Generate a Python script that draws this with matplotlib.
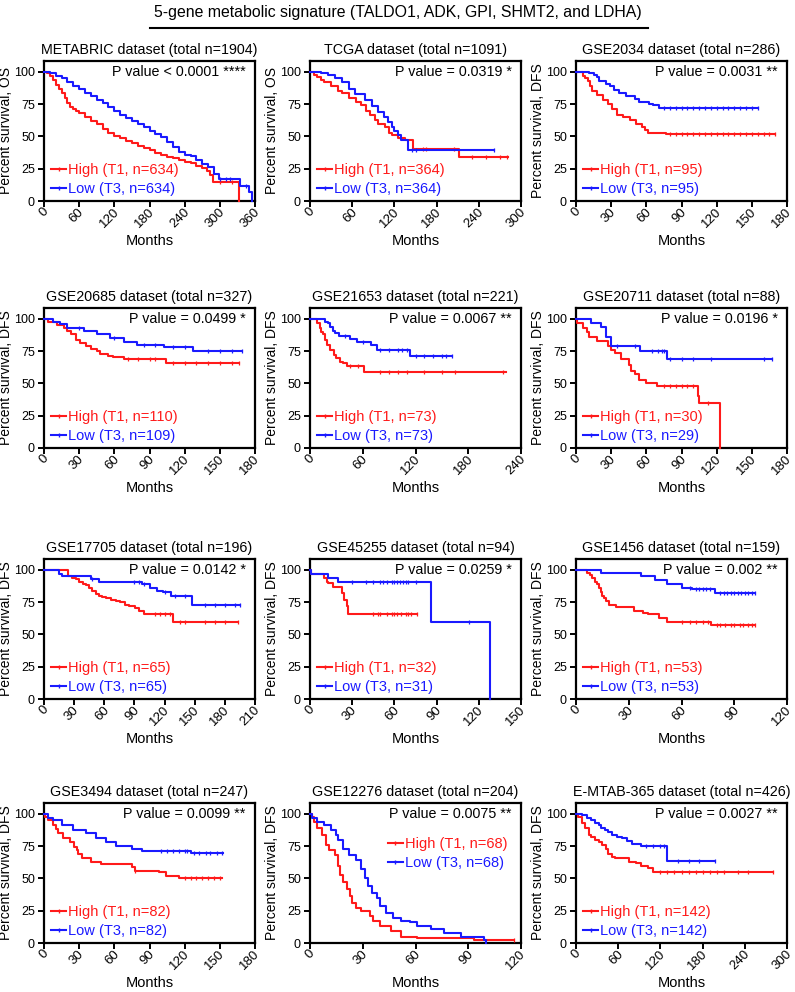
import numpy as np
import matplotlib
matplotlib.use("Agg")
import matplotlib.pyplot as plt
from matplotlib.lines import Line2D
from matplotlib.transforms import ScaledTranslation

plt.rcParams['font.family'] = ['Liberation Sans', 'DejaVu Sans']

# Значения (месяцы, % выживаемости)
titles = ['METABRIC dataset (total n=1904)', 'TCGA dataset (total n=1091)',
          'GSE2034 dataset (total n=286)', 'GSE20685 dataset (total n=327)',
          'GSE21653 dataset (total n=221)', 'GSE20711 dataset (total n=88)',
          'GSE17705 dataset (total n=196)', 'GSE45255 dataset (total n=94)',
          'GSE1456 dataset (total n=159)', 'GSE3494 dataset (total n=247)',
          'GSE12276 dataset (total n=204)', 'E-MTAB-365 dataset (total n=426)']
pvals = ['P value < 0.0001 ****', 'P value = 0.0319 *', 'P value = 0.0031 **',
         'P value = 0.0499 *', 'P value = 0.0067 **', 'P value = 0.0196 *',
         'P value = 0.0142 *', 'P value = 0.0259 *', 'P value = 0.002 **',
         'P value = 0.0099 **', 'P value = 0.0075 **', 'P value = 0.0027 **']
endpoints = ['OS', 'OS'] + ['DFS'] * 10
x_max = [360, 300, 180, 180, 240, 180, 210, 150, 120, 180, 120, 300]
x_step = [60, 60, 30, 30, 60, 30, 30, 30, 30, 30, 30, 60]
n_high = [634, 364, 95, 110, 73, 30, 65, 32, 53, 82, 68, 142]
n_low = [634, 364, 95, 109, 73, 29, 65, 31, 53, 82, 68, 142]

# METABRIC
metabric_high_t = [0, 5, 10, 15, 20, 25, 30, 35, 40, 45, 50, 55, 60, 70, 80, 90, 100, 110, 120, 130,
                   140, 150, 160, 170, 180, 190, 200, 210, 220, 230, 240, 250, 260, 270, 278, 284, 288, 333]
metabric_high_s = [100, 99, 97, 94, 90, 87, 84, 80, 76, 73, 71, 69.5, 68, 65, 62, 59.5, 56, 53, 50.5, 48.5,
                   46.5, 45, 43, 41, 39.5, 37, 35.5, 34, 33, 32, 30.5, 29.5, 27.5, 25.5, 23, 20, 15, 0]
metabric_high_end = 333
metabric_high_cens = [300, 320]
metabric_low_t = [0, 10, 20, 30, 40, 50, 60, 70, 80, 90, 100, 110, 120, 130, 140, 150, 160, 170, 180, 190,
                  200, 210, 220, 230, 240, 250, 260, 270, 280, 290, 298, 335, 350, 355]
metabric_low_s = [100, 99.5, 97, 95, 92, 89, 86.5, 84, 81.5, 78.5, 76, 73, 70, 66.5, 64, 62, 59.5, 57, 54.5, 52,
                  49.5, 46, 42, 38, 36, 34.5, 32, 29, 26, 21, 17, 12, 7, 0]
metabric_low_end = 355
metabric_low_cens = [300, 310, 318, 345]

# TCGA
tcga_high_t = [0, 5, 10, 15, 20, 30, 40, 45, 55, 65, 73, 80, 85, 92, 97, 106, 112, 116, 125, 135, 146, 212]
tcga_high_s = [100, 98, 96, 94, 92.5, 89, 85, 83.5, 80, 77, 74.5, 70, 66.8, 63, 60, 57, 53, 51, 49, 47, 40, 34]
tcga_high_end = 282
tcga_high_cens = [160, 165, 205, 230, 250, 270, 280]
tcga_low_t = [0, 15, 26, 35, 45, 55, 64, 78, 88, 97, 105, 111, 117, 120, 125, 130, 139]
tcga_low_s = [100, 99, 97.5, 95, 92.5, 87, 83, 78, 74, 69, 65, 61.5, 57, 54, 51, 47, 39.5]
tcga_low_end = 262
tcga_low_cens = [145, 150, 262]

# GSE2034
gse2034_high_t = [0, 6, 8, 10, 12, 14, 18, 23, 27, 31, 35, 40, 46, 51, 56, 59, 61, 77]
gse2034_high_s = [100, 97, 95, 93, 89, 85, 82, 78, 75, 71, 67, 65, 63, 60, 57, 55, 53, 52]
gse2034_high_end = 170
gse2034_high_cens = [80, 85, 90, 95, 100, 105, 110, 115, 120, 125, 130, 135, 140, 145, 150, 155, 160, 165, 170]
gse2034_low_t = [0, 11, 15, 18, 20, 26, 29, 32, 37, 43, 50, 54, 62, 66, 71]
gse2034_low_s = [100, 99, 98, 96, 93, 91, 89, 86, 84, 81, 79, 77, 75.5, 74.5, 72]
gse2034_low_end = 155
gse2034_low_cens = [75, 80, 85, 90, 95, 100, 105, 110, 115, 120, 125, 130, 135, 140, 145, 150, 155]

# GSE20685
gse20685_high_t = [0, 3, 11, 17, 20, 23, 27, 31, 36, 40, 45, 48, 55, 59, 68, 104]
gse20685_high_s = [100, 98, 95.5, 93, 91, 88, 84, 81, 79, 77, 75, 73, 71.5, 70.5, 69, 66]
gse20685_high_end = 166
gse20685_high_cens = [72, 80, 90, 95, 110, 120, 130, 140, 150, 160, 166]
gse20685_low_t = [0, 8, 14, 20, 34, 45, 56, 68, 79, 102, 127]
gse20685_low_s = [100, 98, 96, 93, 91, 88, 85, 82.5, 80, 78.5, 75]
gse20685_low_end = 169
gse20685_low_cens = [30, 60, 85, 95, 110, 120, 140, 150, 160, 169]

# GSE21653
gse21653_high_t = [0, 8, 11, 13, 15, 17, 19, 23, 27, 30, 34, 38, 42, 61]
gse21653_high_s = [100, 97, 93, 90, 88, 84, 80, 76, 72, 69.5, 67, 65.6, 63.5, 59]
gse21653_high_end = 223
gse21653_high_cens = [45, 55, 80, 90, 100, 110, 130, 150, 165, 220]
gse21653_low_t = [0, 17, 20, 23, 26, 29, 33, 36, 45, 53, 69, 76, 114]
gse21653_low_s = [100, 98, 97, 94, 91, 89, 87, 86.5, 84.5, 82.5, 80, 76, 71]
gse21653_low_end = 162
gse21653_low_cens = [40, 60, 80, 90, 100, 105, 110, 120, 130, 140, 150, 155, 162]

# GSE20711
gse20711_high_t = [0, 1, 6, 9, 11, 18, 27, 30, 33, 38, 45, 47, 50, 54, 60, 69, 104, 105, 123]
gse20711_high_s = [100, 97, 93, 90, 86, 83, 79, 76, 74, 69, 64, 60, 57, 53, 50.6, 48, 40, 35, 0]
gse20711_high_end = 123
gse20711_high_cens = [75, 80, 85, 90, 95, 100, 113]
gse20711_low_t = [0, 13, 21, 26, 30, 55, 78]
gse20711_low_s = [100, 97, 93.5, 86, 79, 75.5, 69]
gse20711_low_end = 167
gse20711_low_cens = [35, 50, 65, 70, 73, 75, 80, 90, 100, 115, 160, 167]

# GSE17705
gse17705_high_t = [0, 24, 28, 32, 35, 39, 42, 45, 48, 52, 55, 58, 62, 67, 72, 76, 81, 85, 91, 95, 100, 101, 128]
gse17705_high_s = [100, 95, 94, 93, 91, 89, 88, 86, 84, 81, 80, 79, 78.4, 77, 76, 75, 73, 72, 70.6, 68, 66, 65.5, 59.5]
gse17705_high_end = 193
gse17705_high_cens = [110, 115, 120, 125, 135, 140, 160, 170, 180, 193]
gse17705_low_t = [0, 15, 18, 47, 55, 98, 105, 112, 118, 126, 147]
gse17705_low_s = [100, 97, 95, 93, 91, 89, 86, 84, 83, 79.7, 73]
gse17705_low_end = 195
gse17705_low_cens = [48, 90, 95, 100, 120, 130, 140, 160, 170, 180, 190, 195]

# GSE45255
gse45255_high_t = [0, 1, 10, 12, 13, 16, 23, 24, 26, 27]
gse45255_high_s = [100, 96.6, 94, 91, 90, 87, 82, 77, 72, 65.5]
gse45255_high_end = 76
gse45255_high_cens = [45, 48, 50, 55, 58, 60, 62, 65, 68, 70, 72, 76]
gse45255_low_t = [0, 1, 13, 20, 86, 128]
gse45255_low_s = [100, 96.6, 94, 90.6, 60, 0]
gse45255_low_end = 128
gse45255_low_cens = [30, 40, 45, 50, 52, 55, 58, 60, 62, 64, 66, 68, 70, 75, 113]

# GSE1456
gse1456_high_t = [0, 6, 8, 9, 11, 12, 13, 14, 15, 16, 17, 19, 23, 33, 38, 41, 47, 52, 77]
gse1456_high_s = [100, 98, 96, 94, 91, 89, 86, 83, 80, 78, 76, 73, 71.5, 68, 66.5, 65.5, 63, 60, 57.7]
gse1456_high_end = 102
gse1456_high_cens = [60, 65, 68, 72, 75, 80, 82, 85, 88, 90, 93, 95, 98, 100, 102]
gse1456_low_t = [0, 14, 37, 45, 52, 60, 66, 79]
gse1456_low_s = [100, 98, 95.5, 92.5, 89, 86, 85, 82.5]
gse1456_low_end = 102
gse1456_low_cens = [65, 68, 70, 72, 74, 76, 82, 84, 86, 88, 90, 92, 94, 96, 98, 100, 102]

# GSE3494
gse3494_high_t = [0, 1, 3, 8, 10, 12, 16, 22, 26, 28, 29, 32, 40, 49, 75, 78, 98, 104, 115]
gse3494_high_s = [100, 98, 95.5, 91.6, 88, 85, 81, 78.5, 74.6, 72, 69, 65.5, 63, 61, 59, 56, 55, 52, 50]
gse3494_high_end = 152
gse3494_high_cens = [78, 120, 125, 130, 135, 140, 145, 150]
gse3494_low_t = [0, 3, 8, 15, 25, 36, 44, 53, 61, 75, 84, 125]
gse3494_low_s = [100, 97, 95.5, 91.6, 87.7, 85, 81, 78.5, 75.4, 72.8, 71, 69.4]
gse3494_low_end = 153
gse3494_low_cens = [100, 105, 110, 115, 120, 122, 128, 132, 138, 142, 148, 152]

# GSE12276
gse12276_high_t = [0, 1, 2, 4, 7, 9, 11, 14, 16, 17, 19, 21, 23, 24, 26, 29, 34, 36, 40, 46, 52, 61, 93]
gse12276_high_s = [100, 98, 94, 89, 84, 76, 72, 68, 60, 52.6, 47, 42, 36.6, 31, 27.5, 25, 21, 17, 13, 9, 5, 4, 2]
gse12276_high_end = 116
gse12276_high_cens = [116]
gse12276_low_t = [0, 1, 4, 8, 12, 15, 16, 19, 22, 26, 29, 31, 33, 35, 38, 40, 43, 47, 52, 57, 61, 69, 76, 86, 99, 100]
gse12276_low_s = [100, 97, 94, 91.6, 87.7, 84, 80, 73, 68, 64, 57.6, 50, 44.5, 39, 35, 29, 23.6, 19.6, 17, 16, 13,
                  10.5, 8, 5, 2.6, 0]
gse12276_low_end = 100
gse12276_low_cens = []

# E-MTAB-365
emtab_high_t = [0, 3, 8, 13, 18, 22, 27, 32, 37, 42, 46, 51, 56, 75, 85, 93, 103, 110]
emtab_high_s = [100, 98, 93, 89, 84, 82, 80, 78, 76, 73, 69, 67, 65.5, 63, 62, 60, 58, 55]
emtab_high_end = 280
emtab_high_cens = [120, 130, 140, 150, 160, 170, 180, 190, 200, 210, 230, 245, 280]
emtab_low_t = [0, 8, 15, 22, 27, 32, 36, 41, 46, 51, 58, 65, 72, 79, 93, 129]
emtab_low_s = [100, 99, 97, 95.5, 93, 91.6, 89.5, 87.7, 86, 84, 82, 81, 79, 77, 75.4, 63.6]
emtab_low_end = 198
emtab_low_cens = [100, 110, 120, 125, 145, 160, 175, 198]

high_curves = [
    (metabric_high_t, metabric_high_s, metabric_high_end, metabric_high_cens),
    (tcga_high_t, tcga_high_s, tcga_high_end, tcga_high_cens),
    (gse2034_high_t, gse2034_high_s, gse2034_high_end, gse2034_high_cens),
    (gse20685_high_t, gse20685_high_s, gse20685_high_end, gse20685_high_cens),
    (gse21653_high_t, gse21653_high_s, gse21653_high_end, gse21653_high_cens),
    (gse20711_high_t, gse20711_high_s, gse20711_high_end, gse20711_high_cens),
    (gse17705_high_t, gse17705_high_s, gse17705_high_end, gse17705_high_cens),
    (gse45255_high_t, gse45255_high_s, gse45255_high_end, gse45255_high_cens),
    (gse1456_high_t, gse1456_high_s, gse1456_high_end, gse1456_high_cens),
    (gse3494_high_t, gse3494_high_s, gse3494_high_end, gse3494_high_cens),
    (gse12276_high_t, gse12276_high_s, gse12276_high_end, gse12276_high_cens),
    (emtab_high_t, emtab_high_s, emtab_high_end, emtab_high_cens),
]
low_curves = [
    (metabric_low_t, metabric_low_s, metabric_low_end, metabric_low_cens),
    (tcga_low_t, tcga_low_s, tcga_low_end, tcga_low_cens),
    (gse2034_low_t, gse2034_low_s, gse2034_low_end, gse2034_low_cens),
    (gse20685_low_t, gse20685_low_s, gse20685_low_end, gse20685_low_cens),
    (gse21653_low_t, gse21653_low_s, gse21653_low_end, gse21653_low_cens),
    (gse20711_low_t, gse20711_low_s, gse20711_low_end, gse20711_low_cens),
    (gse17705_low_t, gse17705_low_s, gse17705_low_end, gse17705_low_cens),
    (gse45255_low_t, gse45255_low_s, gse45255_low_end, gse45255_low_cens),
    (gse1456_low_t, gse1456_low_s, gse1456_low_end, gse1456_low_cens),
    (gse3494_low_t, gse3494_low_s, gse3494_low_end, gse3494_low_cens),
    (gse12276_low_t, gse12276_low_s, gse12276_low_end, gse12276_low_cens),
    (emtab_low_t, emtab_low_s, emtab_low_end, emtab_low_cens),
]

RED = '#ff1a1a'
BLUE = '#1a1aff'


def draw_km(ax, curve, color):
    t, s, end, cens = curve
    tt = list(t) + [end]
    ss = list(s) + [s[-1]]
    ax.step(tt, ss, where='post', color=color, lw=1.5, clip_on=False, zorder=3)
    if cens:
        idx = np.searchsorted(t, cens, side='right') - 1
        ax.plot(cens, np.array(s)[idx], ls='none', marker='|', ms=3.5, mew=0.9,
                color=color, clip_on=False, zorder=3)


fig = plt.figure(figsize=(7.95, 9.92), dpi=100)
W, H = 795.0, 992.0
col_left = [44, 310, 576]
row_bottom = [201, 448, 699, 943]
ax_w, ax_h = 211, 140
shift = ScaledTranslation(3 / 100, 0, fig.dpi_scale_trans)

for i in range(12):
    r, c = divmod(i, 3)
    ax = fig.add_axes([col_left[c] / W, 1 - row_bottom[r] / H, ax_w / W, ax_h / H])
    draw_km(ax, high_curves[i], RED)
    draw_km(ax, low_curves[i], BLUE)
    ax.set_xlim(0, x_max[i])
    ax.set_ylim(0, 108.5)
    ax.set_xticks(np.arange(0, x_max[i] + 1, x_step[i]))
    ax.set_yticks([0, 25, 50, 75, 100])
    ax.tick_params(direction='out', length=4.5, width=1.4, labelsize=9, pad=2)
    ax.tick_params(axis='x', labelsize=9.5)
    for lab in ax.get_xticklabels():
        lab.set_rotation(45)
        lab.set_ha('right')
        lab.set_va('center')
        lab.set_rotation_mode('anchor')
        lab.set_transform(lab.get_transform() + shift)
    for sp in ax.spines.values():
        sp.set_linewidth(1.6)
    ax.set_title(titles[i], fontsize=10.3, pad=5)
    ax.set_xlabel('Months', fontsize=10.5, labelpad=3)
    ax.set_ylabel('Percent survival, ' + endpoints[i], fontsize=10, labelpad=0.5)
    ax.text(0.955, 0.92, pvals[i], transform=ax.transAxes, ha='right', va='center', fontsize=10.3)

    handles = [Line2D([], [], color=RED, lw=1.5, marker='|', ms=3),
               Line2D([], [], color=BLUE, lw=1.5, marker='|', ms=3)]
    labels = ['High (T1, n=%d)' % n_high[i], 'Low (T3, n=%d)' % n_low[i]]
    if i == 10:
        loc, anchor = 'upper left', (0.37, 0.755)
    else:
        loc, anchor = 'lower left', (0.035, 0.035)
    leg = ax.legend(handles, labels, loc=loc, bbox_to_anchor=anchor, frameon=False,
                    fontsize=10.5, handlelength=1.0, handletextpad=0.15,
                    labelspacing=0.35, borderpad=0, borderaxespad=0)
    for txt, col in zip(leg.get_texts(), [RED, BLUE]):
        txt.set_color(col)

fig.text(0.5, 1 - 12 / H, '5-gene metabolic signature (TALDO1, ADK, GPI, SHMT2, and LDHA)',
         ha='center', va='center', fontsize=11.4)
fig.add_artist(Line2D([150 / W, 648 / W], [1 - 28 / H, 1 - 28 / H], color='black', lw=1.5))

fig.savefig('out.png', dpi=100)
